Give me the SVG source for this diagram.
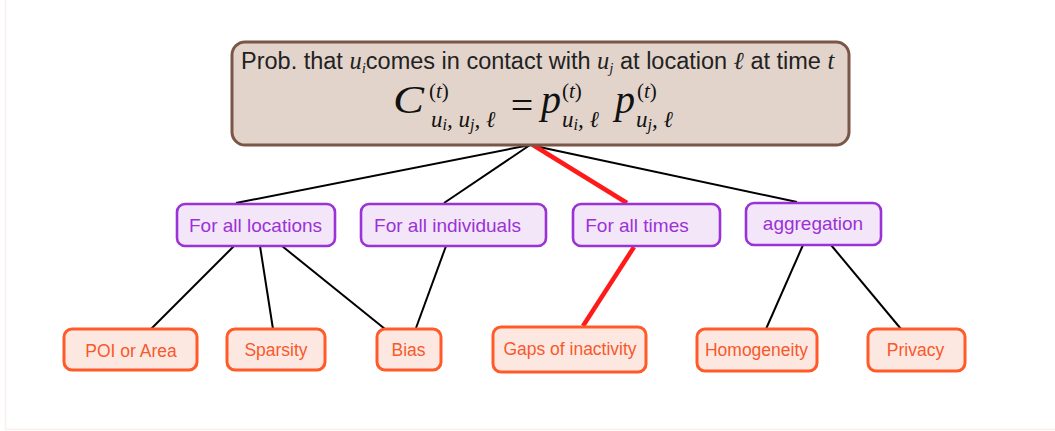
<svg xmlns="http://www.w3.org/2000/svg" width="1055" height="431" viewBox="0 0 1055 431">
<defs>
<style>
.sans{font-family:"Liberation Sans","DejaVu Sans",sans-serif}
.math{font-family:"Liberation Serif","DejaVu Serif",serif;font-style:italic}
.rm{font-style:normal}
.top{fill:#e2d4cb;stroke:#7a5647;stroke-width:3}
.mid{fill:#f3e6f9;stroke:#9b32d6;stroke-width:2.6}
.midt{fill:#9b32d6;font-size:19px;text-anchor:middle}
.bot{fill:#fde8e1;stroke:#ff5a28;stroke-width:3}
.bott{fill:#f8582a;font-size:17.5px;text-anchor:middle}
.conn{stroke:#000;stroke-width:2;fill:none}
.hot{stroke:#ff1a1a;stroke-width:4.5;fill:none}
</style>
</defs>
<rect width="1055" height="431" fill="#fff"/>
<path d="M5.5 0V429.5H1055" fill="none" stroke="#fdeeee" stroke-width="1.5"/>

<g id="connectors">
<line class="conn" x1="530" y1="145" x2="236" y2="203"/>
<line class="conn" x1="530" y1="145" x2="444" y2="203"/>
<line class="conn" x1="530" y1="145" x2="797" y2="202"/>
<line class="hot" x1="533" y1="145" x2="627" y2="203"/>
<line class="conn" x1="234" y1="246" x2="151" y2="329"/>
<line class="conn" x1="260" y1="246" x2="273" y2="329"/>
<line class="conn" x1="282" y1="246" x2="385" y2="329"/>
<line class="conn" x1="446" y1="246" x2="416" y2="328"/>
<line class="hot" x1="634" y1="247" x2="583" y2="326"/>
<line class="conn" x1="803" y1="245" x2="766" y2="329"/>
<line class="conn" x1="831" y1="245" x2="901" y2="329"/>
</g>

<g id="node-top">
<rect class="top" x="232" y="42" width="617" height="103" rx="13"/>
<text class="sans" x="241" y="69" font-size="23.5" fill="#222">Prob. that <tspan class="math" font-size="24.5">u</tspan><tspan class="math" font-size="15" dy="4">i</tspan><tspan dy="-4">comes in contact with </tspan><tspan class="math" font-size="24.5">u</tspan><tspan class="math" font-size="15" dy="4">j</tspan><tspan dy="-4"> at location </tspan><tspan class="math" font-size="24.5">ℓ</tspan> at time <tspan class="math" font-size="24.5">t</tspan></text>
<g class="math" fill="#111">
<text x="393" y="113" font-size="39" textLength="31" lengthAdjust="spacingAndGlyphs">C</text>
<text x="429" y="98" font-size="21"><tspan class="rm">(</tspan>t<tspan class="rm">)</tspan></text>
<text x="431" y="127" font-size="23">u<tspan font-size="16" dy="3">i</tspan><tspan dy="-3">, u</tspan><tspan font-size="16" dy="3">j</tspan><tspan dy="-3">, ℓ</tspan></text>
<text x="522" y="119" font-size="40" class="rm" text-anchor="middle">=</text>
<text x="541" y="113" font-size="40">p</text>
<text x="562" y="98" font-size="21"><tspan class="rm">(</tspan>t<tspan class="rm">)</tspan></text>
<text x="562" y="127" font-size="23">u<tspan font-size="16" dy="3">i</tspan><tspan dy="-3">, ℓ</tspan></text>
<text x="615" y="113" font-size="40">p</text>
<text x="637" y="98" font-size="21"><tspan class="rm">(</tspan>t<tspan class="rm">)</tspan></text>
<text x="636" y="127" font-size="23">u<tspan font-size="16" dy="3">j</tspan><tspan dy="-3">, ℓ</tspan></text>
</g>
</g>

<g id="node-locations">
<rect class="mid" x="177" y="204" width="158" height="42" rx="8"/>
<text class="sans midt" x="255.5" y="232">For all locations</text>
</g>
<g id="node-individuals">
<rect class="mid" x="361" y="204" width="185" height="42" rx="8"/>
<text class="sans midt" x="447.5" y="232">For all individuals</text>
</g>
<g id="node-times">
<rect class="mid" x="573" y="204" width="147" height="42" rx="8"/>
<text class="sans midt" x="637" y="232">For all times</text>
</g>
<g id="node-aggregation">
<rect class="mid" x="746" y="203" width="135" height="42" rx="8"/>
<text class="sans midt" x="813" y="230">aggregation</text>
</g>

<g id="node-poi">
<rect class="bot" x="64" y="329" width="133" height="41" rx="8"/>
<text class="sans bott" x="131" y="357">POI or Area</text>
</g>
<g id="node-sparsity">
<rect class="bot" x="227" y="329" width="98" height="41" rx="8"/>
<text class="sans bott" x="276" y="356">Sparsity</text>
</g>
<g id="node-bias">
<rect class="bot" x="377" y="329" width="64" height="41" rx="8"/>
<text class="sans bott" x="408.5" y="356">Bias</text>
</g>
<g id="node-gaps">
<rect class="bot" x="493" y="327" width="153" height="45" rx="8"/>
<text class="sans bott" x="570" y="355">Gaps of inactivity</text>
</g>
<g id="node-homogeneity">
<rect class="bot" x="697" y="329" width="120" height="42" rx="8"/>
<text class="sans bott" x="756.5" y="356">Homogeneity</text>
</g>
<g id="node-privacy">
<rect class="bot" x="868" y="329" width="97" height="42" rx="8"/>
<text class="sans bott" x="915.5" y="356">Privacy</text>
</g>
</svg>
